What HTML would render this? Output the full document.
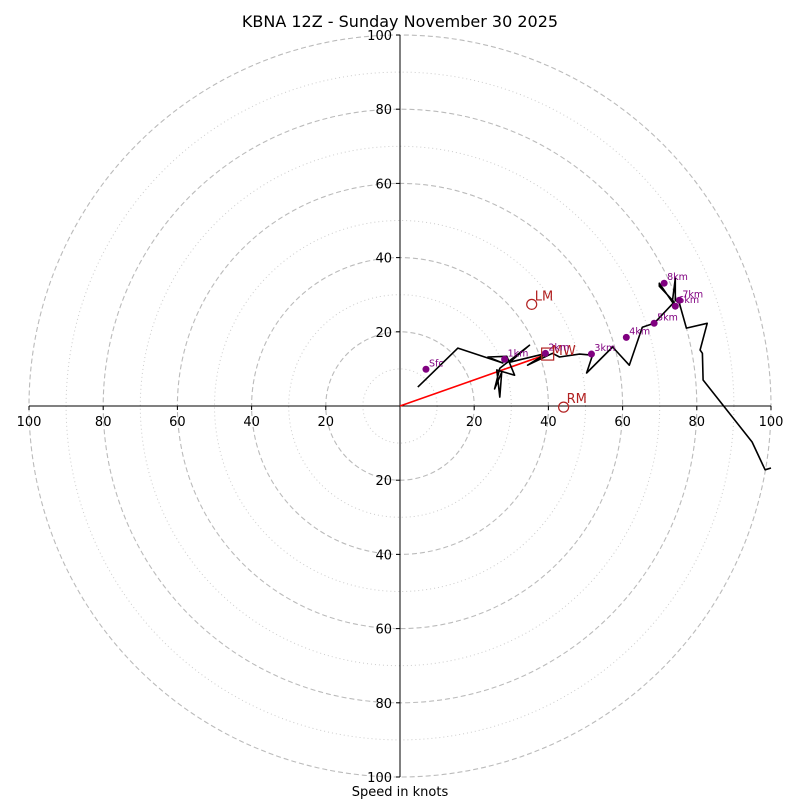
<!DOCTYPE html>
<html><head><meta charset="utf-8"><style>
body{margin:0;background:#fff}
svg text{font-family:"DejaVu Sans","Liberation Sans",sans-serif}
</style></head><body>
<svg id="c" width="800" height="800" xmlns="http://www.w3.org/2000/svg">
<text x="400" y="27" font-size="16" text-anchor="middle">KBNA 12Z - Sunday November 30 2025</text>
<text x="400" y="796" font-size="13" text-anchor="middle">Speed in knots</text>
</svg>
<script>
const uVals=[4.8,15.6,27.7,23.7,28.8,30.9,26.1,26.9,27.4,25.5,26.9,34.9,29.6,39.5,34.4,41.1,43.0,48.4,51.9,50.3,57.3,61.8,65.3,68.5,73.9,69.9,69.9,73.4,74.2,74.2,75.3,77.2,82.8,80.9,81.5,81.7,94.9,98.4,100];
const vVals=[5.1,15.6,11.6,13.2,13.4,8.3,9.7,2.4,9.1,4.6,10.2,16.4,11.8,14.2,11.0,14.2,13.2,14.0,13.7,8.9,15.9,11.0,21.2,22.3,28.0,32.3,33.1,28.0,34.4,28.5,27.7,21.0,22.3,15.1,14.2,7.0,-9.7,-17.2,-16.7];
const markerLabels=["Sfc","1km","2km","3km","4km","5km","6km","7km","8km"];
const markerU=[7.0,28.2,39.2,51.6,61.0,68.5,74.2,75.3,71.2];
const markerV=[9.9,12.6,14.2,14.0,18.5,22.3,26.9,28.5,33.1];
const ringVals=[10,20,30,40,50,60,70,80,90,100];
const tickVals=[20,40,60,80,100];
const lm=[35.5,27.4], rm=[44.1,-0.3], mw=[39.8,14.0];
const cx=400,cy=406,k=3.71;
const X=u=>cx+u*k, Y=v=>cy-v*k;
const s=document.getElementById('c');const NS="http://www.w3.org/2000/svg";
function el(t,a,txt){const e=document.createElementNS(NS,t);for(const n in a)e.setAttribute(n,a[n]);if(txt!==undefined)e.textContent=txt;s.appendChild(e);return e;}
ringVals.forEach(r=>{const major=r%20===0;
const e=el('circle',{cx:cx,cy:cy,r:r*k,fill:'none',stroke:major?'#bbb':'#ccc','stroke-width':major?1.1:1,'stroke-dasharray':major?'5,3':'1,3'});

});
let a=el('line',{x1:X(-100),y1:cy,x2:X(100),y2:cy,stroke:'#000','stroke-width':1});

a=el('line',{x1:cx,y1:Y(100),x2:cx,y2:Y(-100),stroke:'#000','stroke-width':1});

tickVals.forEach(t=>{[t,-t].forEach(v=>{
el('line',{x1:X(v),y1:cy,x2:X(v),y2:cy+4,stroke:'#000'});
const tx=el('text',{x:X(v),y:cy+20,'font-size':13,'text-anchor':'middle'},t);


el('line',{x1:cx-4,y1:Y(v),x2:cx,y2:Y(v),stroke:'#000'});
const ty=el('text',{x:cx-8,y:Y(v)+5,'font-size':13,'text-anchor':'end'},t);

});});
let rl=el('line',{x1:X(0),y1:Y(0),x2:X(mw[0]),y2:Y(mw[1]),stroke:'red','stroke-width':1.6});

let d=uVals.map((u,i)=>(i?'L':'M')+X(u).toFixed(1)+','+Y(vVals[i]).toFixed(1)).join('');
let p=el('path',{d:d,fill:'none',stroke:'#000','stroke-width':1.6,'stroke-linejoin':'round'});

let sq=el('rect',{x:X(mw[0])-6,y:Y(mw[1])-6,width:12,height:12,fill:'none',stroke:'#b22222','stroke-width':1.2});

el('text',{x:X(mw[0])+4,y:Y(mw[1])+1,'font-size':13,fill:'#b22222'},'MW');
[[lm,'LM'],[rm,'RM']].forEach(([m,l])=>{const c=el('circle',{cx:X(m[0]),cy:Y(m[1]),r:5,fill:'none',stroke:'#b22222','stroke-width':1.2});


el('text',{x:X(m[0])+3,y:Y(m[1])-4,'font-size':13,fill:'#b22222'},l);});
markerLabels.forEach((l,i)=>{const c=el('circle',{cx:X(markerU[i]),cy:Y(markerV[i]),r:3.5,fill:'purple'});


el('text',{x:X(markerU[i])+3,y:Y(markerV[i])-3,'font-size':9.5,fill:'purple'},l);});
</script>
</body></html>
